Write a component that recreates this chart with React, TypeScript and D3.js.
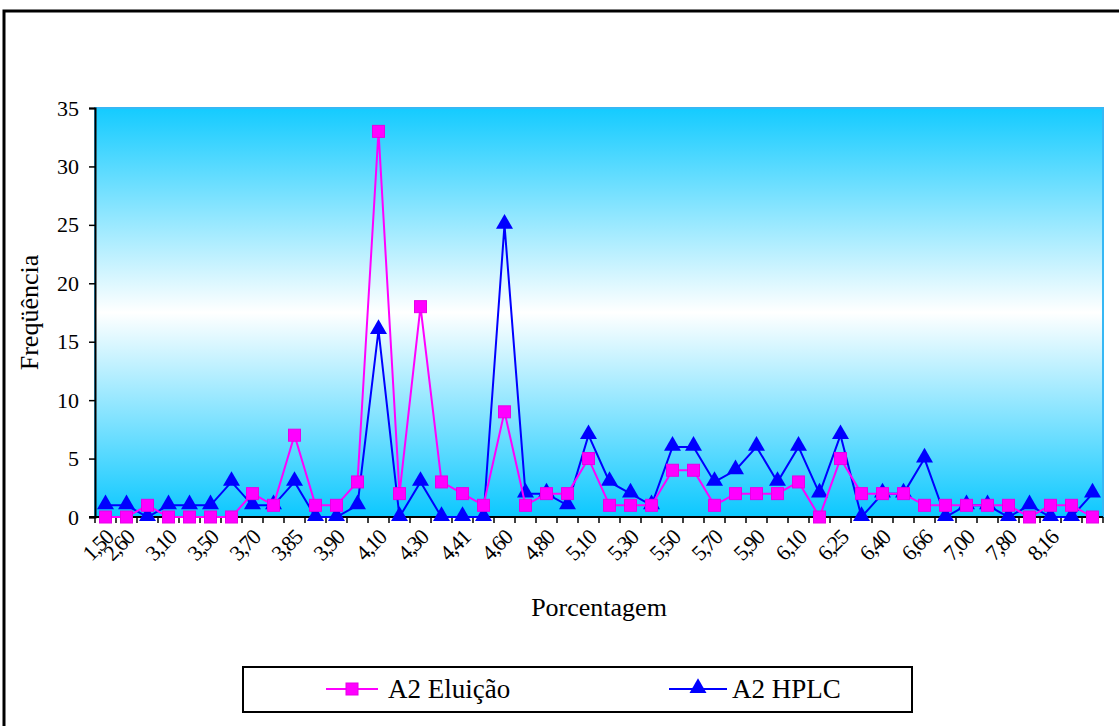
import React, { useEffect, useRef } from 'react';
import * as d3 from 'd3';

// category labels (only every other one is printed on the axis)
const categories = [
  '1,50', '2,60', '2,80', '3,10', '3,30', '3,50', '3,60', '3,70', '3,80', '3,85',
  '3,88', '3,90', '4,00', '4,10', '4,20', '4,30', '4,40', '4,41', '4,50', '4,60',
  '4,70', '4,80', '5,00', '5,10', '5,20', '5,30', '5,40', '5,50', '5,60', '5,70',
  '5,80', '5,90', '6,00', '6,10', '6,20', '6,25', '6,30', '6,40', '6,50', '6,66',
  '6,80', '7,00', '7,50', '7,80', '8,00', '8,16', '8,30', '8,50',
];
const shownLabels = [
  '1,50', '2,60', '3,10', '3,50', '3,70', '3,85', '3,90', '4,10', '4,30', '4,41', '4,60', '4,80',
  '5,10', '5,30', '5,50', '5,70', '5,90', '6,10', '6,25', '6,40', '6,66', '7,00', '7,80', '8,16',
];

const eluicao = [
  0, 0, 1, 0, 0, 0, 0, 2, 1, 7, 1, 1, 3, 33, 2, 18, 3, 2, 1, 9, 1, 2, 2, 5,
  1, 1, 1, 4, 4, 1, 2, 2, 2, 3, 0, 5, 2, 2, 2, 1, 1, 1, 1, 1, 0, 1, 1, 0,
];
const hplc = [
  1, 1, 0, 1, 1, 1, 3, 1, 1, 3, 0, 0, 1, 16, 0, 3, 0, 0, 0, 25, 2, 2, 1, 7,
  3, 2, 1, 6, 6, 3, 4, 6, 3, 6, 2, 7, 0, 2, 2, 5, 0, 1, 1, 0, 1, 0, 0, 2,
];

const yTicks = [0, 5, 10, 15, 20, 25, 30, 35];

const W = 1119;
const H = 726;
const plot = { left: 95, right: 1103, top: 108, bottom: 517 };

const App = () => {
  const svgRef = useRef(null);

  useEffect(() => {
    const svg = d3.select(svgRef.current);
    svg.selectAll('*').remove();

    const font = "'Liberation Serif', 'Times New Roman', serif";

    const x = d3.scaleBand()
      .domain(categories.map((_, i) => String(i)))
      .range([plot.left, plot.right]);
    const y = d3.scaleLinear().domain([0, 35]).range([plot.bottom, plot.top]);
    const cx = (i) => x(String(i)) + x.bandwidth() / 2;

    // outer frame
    svg.append('rect')
      .attr('x', 4).attr('y', 11)
      .attr('width', W + 10).attr('height', H + 10)
      .attr('fill', 'white').attr('stroke', 'black').attr('stroke-width', 3);

    // gradient for the plot area
    const defs = svg.append('defs');
    const grad = defs.append('linearGradient')
      .attr('id', 'bg').attr('x1', 0).attr('y1', 0).attr('x2', 0).attr('y2', 1);
    grad.append('stop').attr('offset', '0%').attr('stop-color', '#14CBFF');
    grad.append('stop').attr('offset', '50%').attr('stop-color', '#FFFFFF');
    grad.append('stop').attr('offset', '100%').attr('stop-color', '#0CC8FF');

    svg.append('rect')
      .attr('x', plot.left).attr('y', plot.top)
      .attr('width', plot.right - plot.left).attr('height', plot.bottom - plot.top)
      .attr('fill', 'url(#bg)').attr('stroke', '#36B8F5').attr('stroke-width', 2);

    // y axis
    const yAxis = svg.append('g')
      .attr('transform', `translate(${plot.left},0)`)
      .call(d3.axisLeft(y).tickValues(yTicks).tickSize(6).tickPadding(10));
    yAxis.select('.domain').attr('stroke', 'black').attr('stroke-width', 2);
    yAxis.selectAll('.tick line').attr('stroke', 'black').attr('stroke-width', 1.5);
    yAxis.selectAll('text')
      .attr('font-family', font).attr('font-size', 22).attr('fill', 'black');

    // x axis line + ticks at band edges
    svg.append('line')
      .attr('x1', plot.left - 6).attr('x2', plot.right)
      .attr('y1', plot.bottom).attr('y2', plot.bottom)
      .attr('stroke', 'black').attr('stroke-width', 2);
    const edges = categories.map((_, i) => x(String(i))).concat([plot.right]);
    svg.append('g').selectAll('line')
      .data(edges)
      .join('line')
      .attr('x1', (d) => d).attr('x2', (d) => d)
      .attr('y1', plot.bottom).attr('y2', plot.bottom + 6)
      .attr('stroke', 'black').attr('stroke-width', 1.5);

    // x labels: first category, then every other one starting at index 1
    const labelIdx = [0];
    for (let i = 1; i < categories.length; i += 2) labelIdx.push(i);
    svg.append('g').selectAll('text')
      .data(labelIdx.slice(0, shownLabels.length))
      .join('text')
      .attr('transform', (i) => `translate(${cx(i) + 9},${plot.bottom + 22}) rotate(-45)`)
      .attr('text-anchor', 'end')
      .attr('font-family', font).attr('font-size', 22)
      .attr('letter-spacing', -1.5)
      .text((_, k) => shownLabels[k]);

    // axis titles
    svg.append('text')
      .attr('transform', `translate(38,${(plot.top + plot.bottom) / 2}) rotate(-90)`)
      .attr('text-anchor', 'middle')
      .attr('font-family', font).attr('font-size', 26)
      .text('Freqüência');
    svg.append('text')
      .attr('x', (plot.left + plot.right) / 2).attr('y', 616)
      .attr('text-anchor', 'middle')
      .attr('font-family', font).attr('font-size', 26)
      .text('Porcentagem');

    const line = d3.line()
      .x((_, i) => cx(i))
      .y((d) => y(d));

    const tri = d3.symbol().type(d3.symbolTriangle).size(125);

    // HPLC (blue triangles)
    svg.append('path')
      .datum(hplc)
      .attr('fill', 'none').attr('stroke', '#0000FF').attr('stroke-width', 2)
      .attr('d', line);
    svg.append('g').selectAll('path')
      .data(hplc)
      .join('path')
      .attr('transform', (d, i) => `translate(${cx(i)},${y(d) - 1})`)
      .attr('d', tri)
      .attr('fill', '#0000FF');

    // Eluicao (magenta squares)
    svg.append('path')
      .datum(eluicao)
      .attr('fill', 'none').attr('stroke', '#FF00FF').attr('stroke-width', 2)
      .attr('d', line);
    svg.append('g').selectAll('rect')
      .data(eluicao)
      .join('rect')
      .attr('x', (_, i) => cx(i) - 6).attr('y', (d) => y(d) - 6)
      .attr('width', 12).attr('height', 12)
      .attr('fill', '#FF00FF').attr('stroke', '#E600E6').attr('stroke-width', 1);

    // legend
    const lg = svg.append('g');
    lg.append('rect')
      .attr('x', 243).attr('y', 667).attr('width', 669).attr('height', 45)
      .attr('fill', 'white').attr('stroke', 'black').attr('stroke-width', 2);
    lg.append('line')
      .attr('x1', 326).attr('x2', 378).attr('y1', 689).attr('y2', 689)
      .attr('stroke', '#FF00FF').attr('stroke-width', 2);
    lg.append('rect')
      .attr('x', 346).attr('y', 683).attr('width', 12).attr('height', 12)
      .attr('fill', '#FF00FF').attr('stroke', '#E600E6');
    lg.append('text')
      .attr('x', 388).attr('y', 698)
      .attr('font-family', font).attr('font-size', 27)
      .text('A2 Eluição');
    lg.append('line')
      .attr('x1', 669).attr('x2', 727).attr('y1', 689).attr('y2', 689)
      .attr('stroke', '#0000FF').attr('stroke-width', 2);
    lg.append('path')
      .attr('transform', 'translate(698,688)')
      .attr('d', tri)
      .attr('fill', '#0000FF');
    lg.append('text')
      .attr('x', 732).attr('y', 698)
      .attr('font-family', font).attr('font-size', 27)
      .text('A2 HPLC');
  }, []);

  return (
    <svg
      ref={svgRef}
      width={W}
      height={H}
      style={{ position: 'absolute', left: 0, top: 0, display: 'block' }}
    />
  );
};

export default App;
